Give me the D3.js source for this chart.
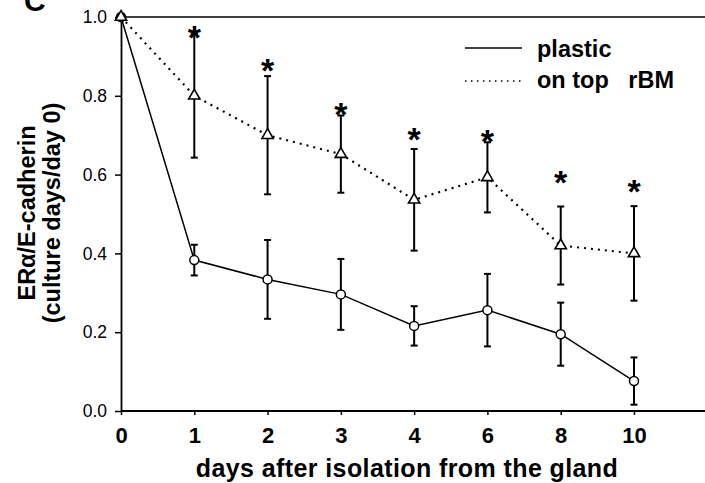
<!DOCTYPE html>
<html>
<head>
<meta charset="utf-8">
<script src="https://cdn.jsdelivr.net/npm/d3@7"></script>
<style>
  html, body { margin: 0; padding: 0; background: #fff; }
  svg { display: block; }
</style>
</head>
<body>
<svg id="chart" width="705" height="483"></svg>
<script>
// ---- data ----
const days = ["0", "1", "2", "3", "4", "6", "8", "10"];
const plastic = [1.0, 0.383, 0.334, 0.296, 0.216, 0.256, 0.195, 0.076];
const plasticErr = [0, 0.039, 0.10, 0.09, 0.05, 0.092, 0.08, 0.06];
const rbm = [1.0, 0.80, 0.70, 0.652, 0.536, 0.593, 0.420, 0.400];
const rbmErr = [0, 0.157, 0.15, 0.098, 0.129, 0.089, 0.099, 0.12];
const sigDays = ["1", "2", "3", "4", "6", "8", "10"];
const sigY = [0.968, 0.884, 0.772, 0.707, 0.702, 0.60, 0.575];
const yTicks = [0.0, 0.2, 0.4, 0.6, 0.8, 1.0];
const seriesNames = ["plastic", "on top   rBM"];

// ---- layout ----
const svg = d3.select("#chart");
const plotLeft = 121, plotTop = 17, plotBottom = 411, rightEdge = 705;
const x = d3.scalePoint().domain(days).range([plotLeft, 634]);
const y = d3.scaleLinear().domain([0, 1]).range([plotBottom, plotTop]);
const FONT = "Liberation Sans, Arial, sans-serif";

// frame top line
svg.append("line").attr("x1", plotLeft).attr("x2", rightEdge).attr("y1", y(1)).attr("y2", y(1))
  .attr("stroke", "#000").attr("stroke-width", 1.5);

// y axis
const yAx = svg.append("g").attr("transform", `translate(${plotLeft},0)`)
  .call(d3.axisLeft(y).tickValues(yTicks).tickFormat(d3.format(".1f")).tickSize(6).tickSizeOuter(0));
yAx.select(".domain").attr("stroke", "#000").attr("stroke-width", 1.8);
yAx.selectAll(".tick line").attr("stroke", "#000").attr("stroke-width", 1.5);
yAx.selectAll(".tick text").attr("font-family", FONT)
  .attr("font-size", 17.5).attr("fill", "#000").attr("x", -14);

// x axis
const xAx = svg.append("g").attr("transform", `translate(0,${plotBottom})`)
  .call(d3.axisBottom(x).tickSize(4).tickSizeOuter(0));
xAx.select(".domain").remove();
xAx.append("line").attr("x1", plotLeft).attr("x2", rightEdge).attr("y1", 0).attr("y2", 0)
  .attr("stroke", "#000").attr("stroke-width", 1.8);
xAx.selectAll(".tick line").attr("stroke", "#000").attr("stroke-width", 1.5);
xAx.selectAll(".tick text").attr("font-family", FONT)
  .attr("font-weight", "bold").attr("font-size", 22).attr("fill", "#000").attr("y", 16);

// axis titles
svg.append("text").attr("x", 407).attr("y", 477).attr("text-anchor", "middle")
  .attr("font-family", FONT).attr("font-weight", "bold").attr("letter-spacing", 0.4)
  .attr("font-size", 25).text("days after isolation from the gland");

const yt = svg.append("text").attr("transform", "translate(35,213) rotate(-90)")
  .attr("text-anchor", "middle").attr("font-family", FONT)
  .attr("font-weight", "bold").attr("font-size", 23.5);
yt.append("tspan").attr("x", 0).attr("dy", 0).text("ERα/E-cadherin");
yt.append("tspan").attr("x", 0).attr("dy", 25).text("(culture days/day 0)");

// panel letter
svg.append("text").attr("x", 24).attr("y", 11).attr("font-family", FONT)
  .attr("font-weight", "bold").attr("font-size", 30).text("C");

// lines
const line = d3.line().x((d, i) => x(days[i])).y(d => y(d));
svg.append("path").datum(plastic).attr("d", line).attr("fill", "none")
  .attr("stroke", "#000").attr("stroke-width", 1.5);
svg.append("path").datum(rbm).attr("d", line).attr("fill", "none")
  .attr("stroke", "#000").attr("stroke-width", 2.2).attr("stroke-dasharray", "2,5");

// error bars
function errBars(vals, errs) {
  const g = svg.append("g").attr("stroke", "#000").attr("stroke-width", 2);
  vals.forEach((v, i) => {
    if (!errs[i]) return;
    const cx = x(days[i]);
    g.append("line").attr("x1", cx).attr("x2", cx).attr("y1", y(v + errs[i])).attr("y2", y(v - errs[i]));
    g.append("line").attr("x1", cx - 3.5).attr("x2", cx + 3.5).attr("y1", y(v + errs[i])).attr("y2", y(v + errs[i]));
    g.append("line").attr("x1", cx - 3.5).attr("x2", cx + 3.5).attr("y1", y(v - errs[i])).attr("y2", y(v - errs[i]));
  });
}
errBars(plastic, plasticErr);
errBars(rbm, rbmErr);

// markers
svg.append("g").selectAll("circle").data(plastic).join("circle")
  .attr("cx", (d, i) => x(days[i])).attr("cy", d => y(d)).attr("r", 4.5)
  .attr("fill", "#fff").attr("stroke", "#000").attr("stroke-width", 1.5);
const tri = d3.symbol().type(d3.symbolTriangle).size(55);
svg.append("g").selectAll("path").data(rbm).join("path")
  .attr("transform", (d, i) => `translate(${x(days[i])},${y(d)})`).attr("d", tri)
  .attr("fill", "#fff").attr("stroke", "#000").attr("stroke-width", 1.6);

// significance asterisks
svg.append("g").selectAll("text").data(sigY).join("text")
  .attr("x", (d, i) => x(sigDays[i])).attr("y", d => y(d) + 19)
  .attr("text-anchor", "middle").attr("font-family", FONT)
  .attr("font-weight", "bold").attr("font-size", 34).text("*");

// legend
const lg = svg.append("g");
lg.append("line").attr("x1", 465).attr("x2", 522).attr("y1", 48).attr("y2", 48)
  .attr("stroke", "#000").attr("stroke-width", 1.5);
lg.append("line").attr("x1", 465).attr("x2", 522).attr("y1", 81).attr("y2", 81)
  .attr("stroke", "#000").attr("stroke-width", 1.5).attr("stroke-dasharray", "1.5,4.5");
lg.selectAll("text").data(seriesNames).join("text")
  .attr("x", 537).attr("y", (d, i) => 57 + i * 31)
  .attr("font-family", FONT).attr("font-weight", "bold")
  .attr("font-size", 23.5).attr("xml:space", "preserve").style("white-space", "pre").text(d => d);
</script>
</body>
</html>
